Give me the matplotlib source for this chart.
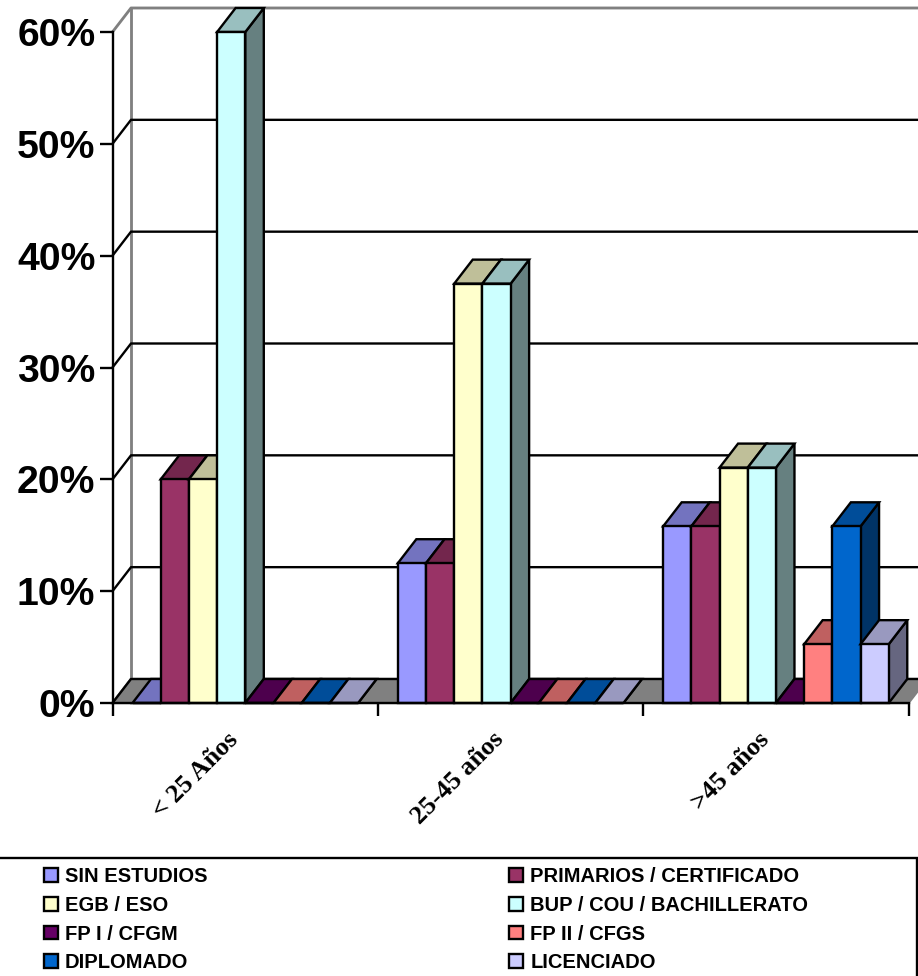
import matplotlib
matplotlib.use("Agg")
import matplotlib.pyplot as plt
from matplotlib.patches import Patch, Rectangle

categories = ["< 25 Años", "25-45 años", ">45 años"]
series_names = ["SIN ESTUDIOS", "PRIMARIOS / CERTIFICADO", "EGB / ESO",
                "BUP / COU / BACHILLERATO", "FP I / CFGM", "FP II / CFGS",
                "DIPLOMADO", "LICENCIADO"]
sin_estudios = [0, 12.5, 15.8]
primarios = [20, 12.5, 15.8]
egb = [20, 37.5, 21.05]
bup = [60, 37.5, 21.05]
fp1 = [0, 0, 0]
fp2 = [0, 0, 5.26]
diplomado = [0, 0, 15.8]
licenciado = [0, 0, 5.26]
all_series = [sin_estudios, primarios, egb, bup, fp1, fp2, diplomado, licenciado]
front_colors = ["#9999FF", "#993366", "#FFFFCC", "#CCFFFF", "#660066", "#FF8080", "#0066CC", "#CCCCFF"]
top_colors = ["#7373BF", "#73264D", "#BFBF99", "#99BFBF", "#4D004D", "#BF6060", "#004D99", "#9999BF"]
side_colors = ["#4D4D80", "#4D1A33", "#808066", "#668080", "#330033", "#804040", "#003366", "#666680"]
yticks = [0, 10, 20, 30, 40, 50, 60]

W, H = 918, 976
fig = plt.figure(figsize=(W / 100, H / 100), dpi=100, facecolor="white")
L, R, T, B = 112.5, 908.5, 32, 703
ax = fig.add_axes([L / W, 1 - B / H, (R - L) / W, (B - T) / H])
ax.set_xlim(0, 3)
ax.set_ylim(0, 60)
ax.patch.set_alpha(0)

DX = 18.5 / ((R - L) / 3)
DY = 24 / ((B - T) / 60)
LW = 1.7
GRAY = "#808080"
k = dict(clip_on=False, joinstyle="miter")

# floor
ax.fill([0, 3, 3 + DX, DX], [0, 0, DY, DY], facecolor=GRAY, edgecolor=GRAY, lw=LW, zorder=1, **k)
# walls
ax.plot([DX, DX], [DY, 60 + DY], color=GRAY, lw=LW * 1.2, clip_on=False, zorder=1.2)
ax.plot([0, DX, 3 + DX], [60, 60 + DY, 60 + DY], color=GRAY, lw=LW * 1.2, clip_on=False, zorder=1.2)
ax.plot([0, DX], [0, DY], color=GRAY, lw=LW, clip_on=False, zorder=1.2)
# gridlines on the back wall and left wall
for v in yticks[:-1]:
    ax.plot([0, DX, 3 + DX], [v, v + DY, v + DY], color="black", lw=LW, clip_on=False, zorder=1.5)

bw = 28.2 / ((R - L) / 3)
margin = 20.0 / ((R - L) / 3)
z = 3
for c in range(len(categories)):
    for s in range(len(all_series)):
        v = all_series[s][c]
        x0 = c + margin + s * bw
        x1 = x0 + bw
        ax.fill([x1, x1 + DX, x1 + DX, x1], [0, DY, v + DY, v],
                facecolor=side_colors[s], edgecolor="black", lw=LW, zorder=z, **k)
        ax.fill([x0, x1, x1 + DX, x0 + DX], [v, v, v + DY, v + DY],
                facecolor=top_colors[s], edgecolor="black", lw=LW, zorder=z, **k)
        ax.bar(x0, v, width=bw, align="edge", facecolor=front_colors[s], edgecolor="black",
               linewidth=LW, zorder=z, clip_on=False)
        z += 1

for side in ("top", "right"):
    ax.spines[side].set_visible(False)
for side in ("left", "bottom"):
    ax.spines[side].set_linewidth(LW)
    ax.spines[side].set_zorder(z + 1)

ax.set_yticks(yticks)
ax.set_yticklabels([f"{v}%" for v in yticks], family="Liberation Sans", weight="bold", fontsize=28.2)
ax.tick_params(axis="y", length=9.4, width=LW, pad=3)
ax.set_xticks([0, 1, 2, 3])
ax.set_xticklabels([])
ax.tick_params(axis="x", which="major", length=9.4, width=LW)
ax.set_xticks([0.43, 1.43, 2.43], minor=True)
ax.set_xticklabels(categories, minor=True, rotation=45, ha="right", rotation_mode="anchor",
                   family="Liberation Serif", weight="bold", fontsize=19)
ax.tick_params(axis="x", which="minor", length=0, pad=18)

# legend frame
fig.add_artist(Rectangle((-5 / W, -5 / H), 922 / W, (H - 858 + 5) / H, transform=fig.transFigure,
                         facecolor="white", edgecolor="black", lw=LW))
handles = [Patch(facecolor=front_colors[i], edgecolor="black", linewidth=LW) for i in range(8)]
# rows alternate across two columns
order = [0, 2, 4, 6, 1, 3, 5, 7]
leg = fig.legend([handles[i] for i in order], [series_names[i] for i in order], ncol=2,
                 loc="upper left", bbox_to_anchor=(36 / W, 1 - 859 / H), frameon=False,
                 prop={"family": "Liberation Sans", "weight": "bold", "size": 14.5},
                 handlelength=0.68, handleheight=0.68, handletextpad=0.35,
                 columnspacing=15.0, labelspacing=0.485, borderpad=0.4, borderaxespad=0)
fig.savefig("out.png", dpi=100, facecolor="white")
